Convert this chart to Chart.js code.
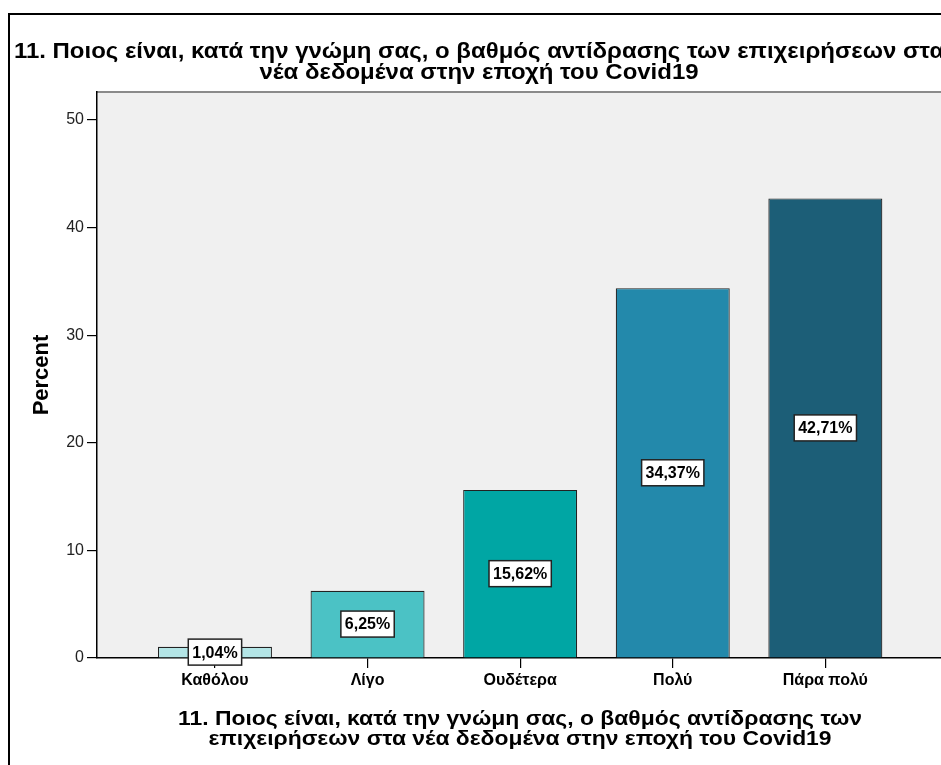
<!DOCTYPE html>
<html lang="el">
<head>
<meta charset="UTF-8">
<title>Βαθμός αντίδρασης των επιχειρήσεων</title>
<script src="https://cdn.jsdelivr.net/npm/chart.js"></script>
<style>
  html, body { margin: 0; padding: 0; background: #fff; overflow: hidden; }
  #wrap { width: 941px; height: 765px; overflow: hidden; position: relative; }
  #wrap canvas { position: absolute; left: 0; top: 0; }
</style>
</head>
<body>
<div id="wrap"><canvas id="grafico" width="960" height="765"></canvas></div>
<script>
// data
const categories = ['Καθόλου', 'Λίγο', 'Ουδέτερα', 'Πολύ', 'Πάρα πολύ'];
const percents = [1.04, 6.25, 15.62, 34.37, 42.71];
const yTicks = [0, 10, 20, 30, 40, 50];
const barColors = ['#b3e5e6', '#4bc2c5', '#00a6a4', '#2389ab', '#1c5e77'];
const chartTitle = [
  '11. Ποιος είναι, κατά την γνώμη σας, ο βαθμός αντίδρασης των επιχειρήσεων στα',
  'νέα δεδομένα στην εποχή του Covid19'
];
const xTitle = [
  '11. Ποιος είναι, κατά την γνώμη σας, ο βαθμός αντίδρασης των',
  'επιχειρήσεων στα νέα δεδομένα στην εποχή του Covid19'
];

const FONT = "'Liberation Sans', Arial, sans-serif";
const WIDEN = 1.09; // the exported titles use a slightly wider face

function wideText(ctx, text, cx, y) {
  ctx.save();
  ctx.translate(cx, y);
  ctx.scale(WIDEN, 1);
  ctx.fillText(text, 0, 0);
  ctx.restore();
}

// gray plot background, outer frame and the two titles
const frame = {
  id: 'frame',
  beforeDraw(chart) {
    const { ctx, chartArea: a, width, height } = chart;
    ctx.save();
    ctx.fillStyle = '#fff';
    ctx.fillRect(0, 0, width, height);
    ctx.fillStyle = '#f0f0f0';
    ctx.fillRect(a.left, a.top, a.right - a.left, a.bottom - a.top);
    ctx.strokeStyle = '#8a8a8a';
    ctx.lineWidth = 2;
    ctx.beginPath();
    ctx.moveTo(a.left, a.top);
    ctx.lineTo(a.right, a.top);
    ctx.stroke();

    ctx.strokeStyle = '#000';
    ctx.lineWidth = 2;
    ctx.beginPath();
    ctx.moveTo(9, height);
    ctx.lineTo(9, 14);
    ctx.lineTo(width, 14);
    ctx.stroke();

    ctx.fillStyle = '#000';
    ctx.textAlign = 'center';
    ctx.textBaseline = 'alphabetic';
    ctx.font = 'bold 22px ' + FONT;
    wideText(ctx, chartTitle[0], 479, 58);
    wideText(ctx, chartTitle[1], 479, 79);

    const cx = (a.left + a.right) / 2;
    ctx.font = 'bold 21px ' + FONT;
    wideText(ctx, xTitle[0], cx, 725);
    wideText(ctx, xTitle[1], cx, 745);
    ctx.restore();
  }
};

// white boxes with the percentage in the middle of each bar
const valueBoxes = {
  id: 'valueBoxes',
  afterDatasetsDraw(chart) {
    const { ctx } = chart;
    const meta = chart.getDatasetMeta(0);
    ctx.save();
    ctx.font = 'bold 16px ' + FONT;
    ctx.textAlign = 'center';
    ctx.textBaseline = 'middle';
    meta.data.forEach((bar, i) => {
      const txt = percents[i].toFixed(2).replace('.', ',') + '%';
      const w = ctx.measureText(txt).width + 8;
      const h = 26;
      const cy = (bar.y + bar.base) / 2;
      ctx.fillStyle = '#fff';
      ctx.fillRect(bar.x - w / 2, cy - h / 2, w, h);
      ctx.strokeStyle = '#222';
      ctx.lineWidth = 1.5;
      ctx.strokeRect(bar.x - w / 2, cy - h / 2, w, h);
      ctx.fillStyle = '#000';
      ctx.fillText(txt, bar.x, cy + 1);
    });
    ctx.restore();
  }
};

new Chart(document.getElementById('grafico'), {
  type: 'bar',
  data: {
    datasets: [{
      data: percents.map((v, i) => ({ x: i, y: v })),
      backgroundColor: barColors,
      borderColor: '#222',
      borderWidth: 1.2,
      categoryPercentage: 1,
      barPercentage: 0.747
    }]
  },
  options: {
    responsive: false,
    animation: false,
    layout: { padding: { left: 0, top: 92, right: 17, bottom: 0 } },
    plugins: {
      legend: { display: false },
      title: { display: false },
      tooltip: { enabled: false }
    },
    scales: {
      x: {
        type: 'linear',
        bounds: 'data',
        offset: false,
        min: -0.773,
        max: 4.771,
        afterFit: s => { s.height = 107; },
        afterBuildTicks: s => { s.ticks = categories.map((c, i) => ({ value: i })); },
        grid: { offset: false, drawOnChartArea: false, tickLength: 10, color: '#000', lineWidth: 1.2 },
        border: { color: '#000', width: 1.5 },
        ticks: {
          autoSkip: false,
          maxRotation: 0,
          padding: 3,
          color: '#000',
          font: { family: FONT, size: 16, weight: 'bold' },
          callback: v => categories[v]
        }
      },
      y: {
        min: 0,
        max: 52.6,
        afterFit: s => { s.width = 97; },
        afterBuildTicks: s => { s.ticks = yTicks.map(v => ({ value: v })); },
        grid: { drawOnChartArea: false, tickLength: 10, color: '#000', lineWidth: 1.2 },
        border: { color: '#000', width: 1.5 },
        ticks: {
          padding: 3,
          color: '#222',
          font: { family: FONT, size: 16 }
        },
        title: {
          display: true,
          text: 'Percent',
          color: '#000',
          font: { family: FONT, size: 22, weight: 'bold' },
          padding: { top: 29, bottom: 0 }
        }
      }
    }
  },
  plugins: [frame, valueBoxes]
});
</script>
</body>
</html>
